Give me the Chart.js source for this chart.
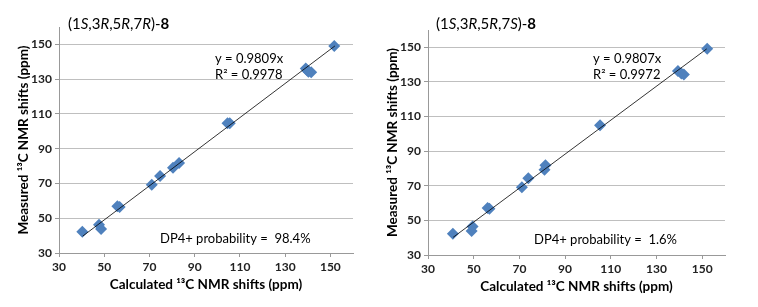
<!DOCTYPE html>
<html>
<head>
<meta charset="utf-8">
<script src="https://cdn.jsdelivr.net/npm/chart.js@4.4.1/dist/chart.umd.min.js"></script>
<style>
  html, body { margin: 0; padding: 0; background: #fff; }
  .row { display: flex; width: 758px; height: 307px; }
  .cell { position: relative; width: 379px; height: 307px; }
</style>
</head>
<body>
<div class="row">
  <div class="cell"><canvas id="chartA"></canvas></div>
  <div class="cell"><canvas id="chartB"></canvas></div>
</div>
<script>
// (1S,3R,5R,7R)-8 : calculated vs measured 13C shifts (ppm)
const calcA = [40.3, 47.7, 48.6, 55.8, 56.8, 71.0, 74.7, 80.4, 83.1, 104.5, 105.5, 139.1, 139.8, 140.3, 141.5, 151.7];
const measA = [42.2, 46.3, 43.8, 56.9, 56.5, 69.3, 74.3, 79.0, 81.7, 104.6, 104.6, 136.2, 135.0, 134.2, 133.9, 149.0];
const trendXA = [40.5, 152];
const trendYA = [39.7, 149.1];

// (1S,3R,5R,7S)-8
const calcB = [40.9, 49.5, 49.1, 56.1, 56.9, 71.1, 73.9, 81.0, 81.4, 105.3, 139.4, 140.9, 142.0, 152.2];
const measB = [42.3, 46.4, 43.9, 57.1, 56.7, 69.2, 74.4, 79.2, 81.9, 105.0, 136.3, 134.8, 134.3, 149.2];
const trendXB = [41, 152];
const trendYB = [40.2, 149.1];

const xTicks = [30, 50, 70, 90, 110, 130, 150];
const yTicks = [30, 50, 70, 90, 110, 130, 150];

const FONT = 'Lato, "Open Sans", sans-serif';
const MARKER = '#4f81bd';
const GRID = '#bfbfbf';

// draws title with italic descriptors, the fit equation and DP4+ text
const notesPlugin = {
  id: 'notes',
  afterDraw(chart, args, opts) {
    const c = chart.ctx;
    c.save();
    c.fillStyle = '#000';
    c.textBaseline = 'middle';
    let x = opts.titleX;
    opts.titleParts.forEach(([txt, style]) => {
      c.font = `${style} 15px ${FONT}`;
      c.fillText(txt, x, opts.titleY);
      x += c.measureText(txt).width;
    });
    c.font = `13px ${FONT}`;
    c.fillText(opts.eq, opts.eqX, opts.eqY);
    c.fillText(opts.r2, opts.eqX, opts.eqY + 16);
    c.fillText(opts.dp4, opts.dpX, opts.dpY);
    c.restore();
  },
};

function makeChart(id, calc, meas, tx, ty, pad, yw, notes) {
  const points = calc.map((v, i) => ({ x: v, y: meas[i] }));
  const trend = tx.map((v, i) => ({ x: v, y: ty[i] }));
  return new Chart(document.getElementById(id), {
    type: 'scatter',
    data: {
      datasets: [
        { data: points, pointStyle: 'rectRot', pointRadius: 6, backgroundColor: MARKER, borderColor: MARKER, borderWidth: 0, order: 2 },
        { type: 'line', data: trend, borderColor: '#000', borderWidth: 0.8, pointRadius: 0, fill: false, order: 1 },
      ],
    },
    options: {
      responsive: false,
      animation: false,
      layout: { padding: pad },
      plugins: { legend: { display: false }, tooltip: { enabled: false }, notes },
      scales: {
        x: {
          type: 'linear', min: 30, max: 160,
          afterBuildTicks: s => { s.ticks = xTicks.map(v => ({ value: v })); },
          ticks: { font: { family: FONT, size: 12, weight: 'bold' }, color: '#222', padding: 3 },
          grid: { drawOnChartArea: false, drawTicks: true, tickLength: 4, color: '#999' },
          border: { color: '#999' },
          title: { display: true, text: 'Calculated ¹³C NMR shifts (ppm)', font: { family: FONT, size: 13.5, weight: 'bold' }, color: '#000', padding: { top: 4 } },
          afterFit: s => { s.height = 44; },
        },
        y: {
          type: 'linear', min: 30, max: 160,
          afterBuildTicks: s => { s.ticks = yTicks.map(v => ({ value: v })); },
          ticks: { font: { family: FONT, size: 12, weight: 'bold' }, color: '#222', padding: 3 },
          grid: { color: GRID, tickLength: 4, tickColor: '#999' },
          border: { color: '#999' },
          title: { display: true, text: 'Measured ¹³C NMR shifts (ppm)', font: { family: FONT, size: 13.5, weight: 'bold' }, color: '#000', padding: { bottom: 2 } },
          afterFit: s => { s.width = yw; },
        },
      },
    },
    plugins: [notesPlugin],
  });
}

for (const id of ['chartA', 'chartB']) {
  const cv = document.getElementById(id);
  cv.width = 379; cv.height = 307;
  cv.style.width = '379px'; cv.style.height = '307px';
}

makeChart('chartA', calcA, measA, trendXA, trendYA, { left: 12, top: 27, right: 26, bottom: 10 }, 47, {
  titleX: 68, titleY: 24,
  titleParts: [['(1', ''], ['S', 'italic'], [',3', ''], ['R', 'italic'], [',5', ''], ['R', 'italic'], [',7', ''], ['R', 'italic'], [')-', ''], ['8', 'bold']],
  eq: 'y = 0.9809x', r2: 'R² = 0.9978', eqX: 215, eqY: 59,
  dp4: 'DP4+ probability =  98.4%', dpX: 160, dpY: 239,
});

makeChart('chartB', calcB, measB, trendXB, trendYB, { left: 2, top: 30, right: 33, bottom: 8 }, 47, {
  titleX: 57, titleY: 24,
  titleParts: [['(1', ''], ['S', 'italic'], [',3', ''], ['R', 'italic'], [',5', ''], ['R', 'italic'], [',7', ''], ['S', 'italic'], [')-', ''], ['8', 'bold']],
  eq: 'y = 0.9807x', r2: 'R² = 0.9972', eqX: 214, eqY: 59,
  dp4: 'DP4+ probability =  1.6%', dpX: 155, dpY: 240,
});
</script>
</body>
</html>
